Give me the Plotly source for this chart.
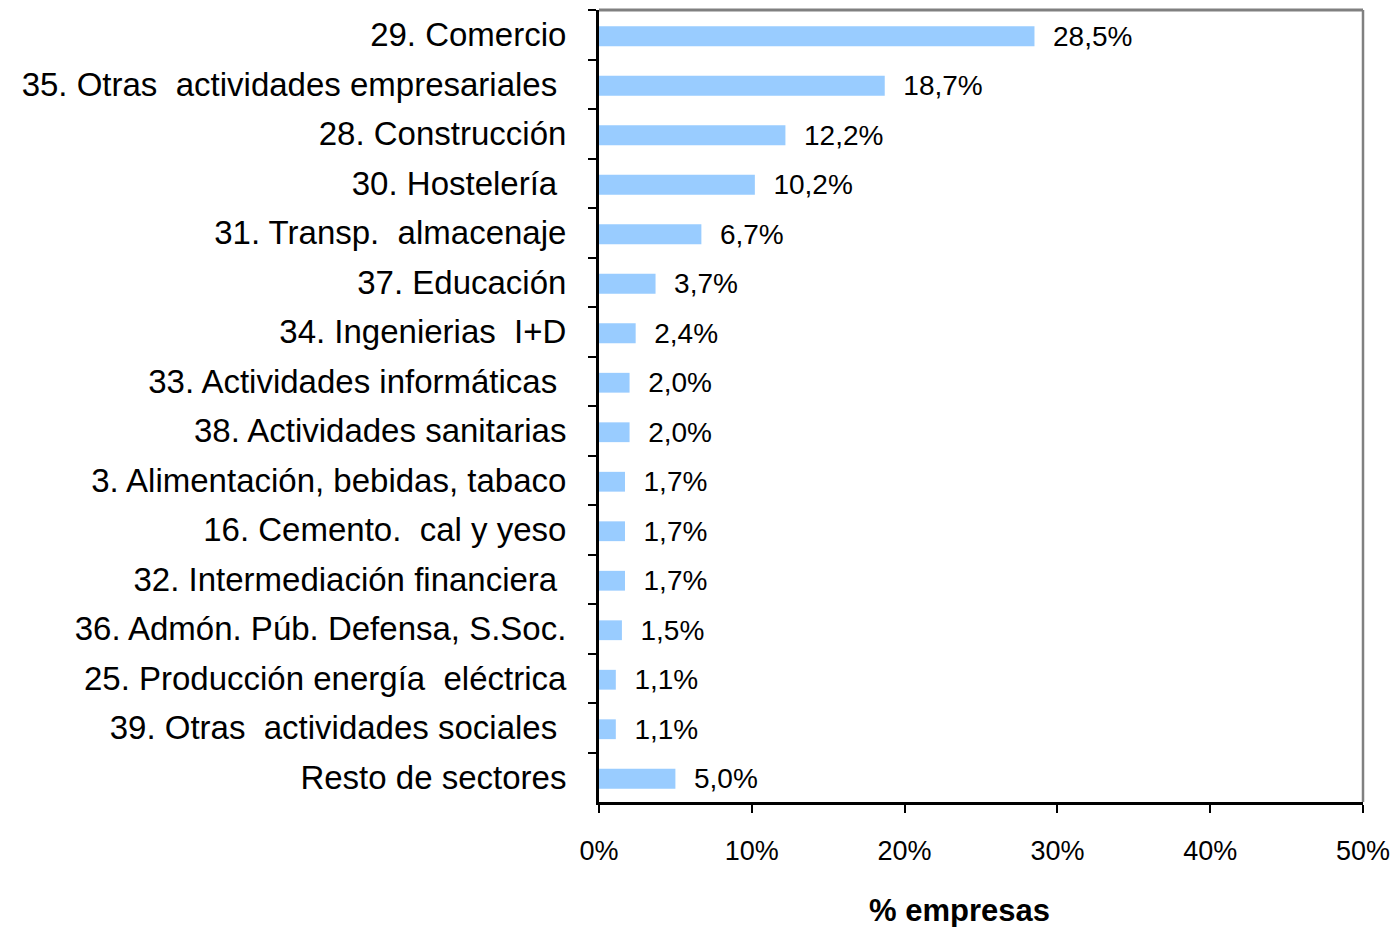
import plotly.graph_objects as go

categories = [
    "29. Comercio",
    "35. Otras\u00a0 actividades empresariales\u00a0",
    "28. Construcción",
    "30. Hostelería\u00a0",
    "31. Transp.\u00a0 almacenaje",
    "37. Educación",
    "34. Ingenierias\u00a0 I+D",
    "33. Actividades informáticas\u00a0",
    "38. Actividades sanitarias",
    "3. Alimentación, bebidas, tabaco",
    "16. Cemento.\u00a0 cal y yeso",
    "32. Intermediación financiera\u00a0",
    "36. Admón. Púb. Defensa, S.Soc.",
    "25. Producción energía\u00a0 eléctrica",
    "39. Otras\u00a0 actividades sociales\u00a0",
    "Resto de sectores",
]
values = [28.5, 18.7, 12.2, 10.2, 6.7, 3.7, 2.4, 2.0, 2.0, 1.7, 1.7, 1.7, 1.5, 1.1, 1.1, 5.0]
x_ticks = [0, 10, 20, 30, 40, 50]
x_tick_labels = ["0%", "10%", "20%", "30%", "40%", "50%"]
x_title = "% empresas"

FONT = "Arial, 'Liberation Sans', sans-serif"

W, H = 1395, 927
L, R, T, B = 599, W - 1363, 10, H - 802

fig = go.Figure()
fig.add_trace(go.Bar(
    x=values,
    y=categories,
    orientation="h",
    marker=dict(color="#99CCFF", line=dict(width=0)),
    width=0.4,
    offset=-0.17,
    texttemplate="\u00a0\u00a0%{x:.1f}%",
    textposition="outside",
    constraintext="none",
    cliponaxis=False,
    textfont=dict(family=FONT, size=28, color="black"),
    hoverinfo="skip",
))

fig.update_layout(
    width=W,
    height=H,
    margin=dict(l=L, r=R, t=T, b=B, autoexpand=False),
    paper_bgcolor="white",
    plot_bgcolor="white",
    separators=",.",
    showlegend=False,
    font=dict(family=FONT, color="black"),
    xaxis=dict(
        range=[0, 50],
        tickmode="array",
        tickvals=x_ticks,
        ticktext=x_tick_labels,
        ticks="outside",
        ticklen=8,
        tickwidth=2,
        tickcolor="black",
        showline=True,
        linecolor="black",
        linewidth=3,
        showgrid=False,
        zeroline=False,
        tickfont=dict(family=FONT, size=27, color="black"),
        ticklabelstandoff=15,
    ),
    yaxis=dict(
        categoryorder="array",
        categoryarray=categories,
        autorange="reversed",
        ticks="outside",
        tickson="boundaries",
        ticklen=8,
        tickwidth=2,
        tickcolor="black",
        showline=True,
        linecolor="black",
        linewidth=3,
        showgrid=False,
        zeroline=False,
        tickfont=dict(family=FONT, size=33, color="black"),
        ticklabelstandoff=23,
    ),
    shapes=[
        dict(type="line", xref="paper", yref="paper", x0=0, x1=1, y0=1, y1=1,
             line=dict(color="#808080", width=3), layer="above"),
        dict(type="line", xref="paper", yref="paper", x0=1, x1=1, y0=0, y1=1,
             line=dict(color="#808080", width=2.5), layer="above"),
    ],
    annotations=[
        dict(text="<b>" + x_title + "</b>", xref="paper", yref="paper",
             x=(959 - 599) / (1363 - 599), y=-(911 - 802) / (802 - 10),
             xanchor="center", yanchor="middle",
             showarrow=False, font=dict(family=FONT, size=31, color="black")),
    ],
)

fig.write_html(
    "out.html",
    config={"displayModeBar": False},
    post_script="document.body.style.margin='0';document.body.style.overflow='hidden';",
)
